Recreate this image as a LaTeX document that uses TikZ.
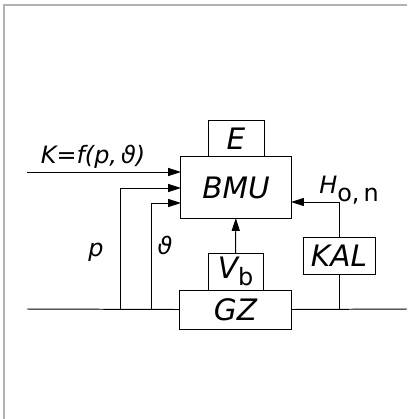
\documentclass[tikz,border=0pt]{standalone}
\usepackage{fontspec}
\setsansfont{DejaVu Sans}
\usepackage{tikz}
\usetikzlibrary{arrows.meta, positioning}

\begin{document}
\begin{tikzpicture}[
    x=0.025cm, y=-0.025cm,
    line width=0.7pt,
    every node/.style={font=\sffamily\itshape\fontsize{21}{22}\selectfont},
    block/.style={rectangle, draw, outer sep=0pt, inner sep=0pt, minimum width=#1},
    lbl/.style={font=\sffamily\itshape\fontsize{17}{18}\selectfont, inner sep=1pt},
    arrow/.style={-{Triangle[length=3.2mm, width=2mm]}}
]
\useasboundingbox (0,0) rectangle (407,419);

% frame
\draw[gray!60, line width=1pt] (4,419) -- (4,5) -- (407,5);

% blocks
\node[block=2.75cm, minimum height=1.525cm] (bmu) at (236,187.5) {BMU};
\node[block=1.4cm, minimum height=0.9cm, above=0pt of bmu] (e) {E};
\node[block=1.375cm, minimum height=0.925cm] (vb) at (235.5,271.5) {V\raisebox{-0.45ex}{\upshape\fontsize{17}{18}\selectfont b}};
\node[block=2.775cm, minimum height=0.975cm, below=0pt of vb] (gz) {GZ};
\node[block=1.8cm, minimum height=0.925cm] (kal) at (339,255.5) {KAL};

% line ends
\coordinate (lend) at (27,309);
\coordinate (rend) at (407,309);
\coordinate (kin) at (27,172);
\coordinate (pfoot) at (120,309);
\coordinate (tfoot) at (151,309);
\coordinate (pin) at (bmu.west |- 0,188);
\coordinate (tin) at (bmu.west |- 0,203);
\coordinate (hin) at (bmu.east |- 0,202);

% main line
\draw (lend) -- (gz.west);
\draw (gz.east) -- (rend);

% inputs
\draw[arrow] (kin) -- (kin -| bmu.west);
\draw[arrow] (pfoot) |- (pin);
\draw[arrow] (tfoot) |- (tin);
\draw[arrow] (vb) -- (bmu);
\draw[arrow] (kal) |- (hin);
\draw (kal.south) -- (kal.south |- rend);

% labels
\node[lbl] (klbl) at (93,157) {K=f(p,\,ϑ)};
\node[lbl] (plbl) at (96,252) {p};
\node[lbl] (tlbl) at (165,245) {ϑ};
\node[lbl] (hlbl) at (349,190) {H\raisebox{-0.6ex}{\upshape o,\,n}};

\end{tikzpicture}
\end{document}
